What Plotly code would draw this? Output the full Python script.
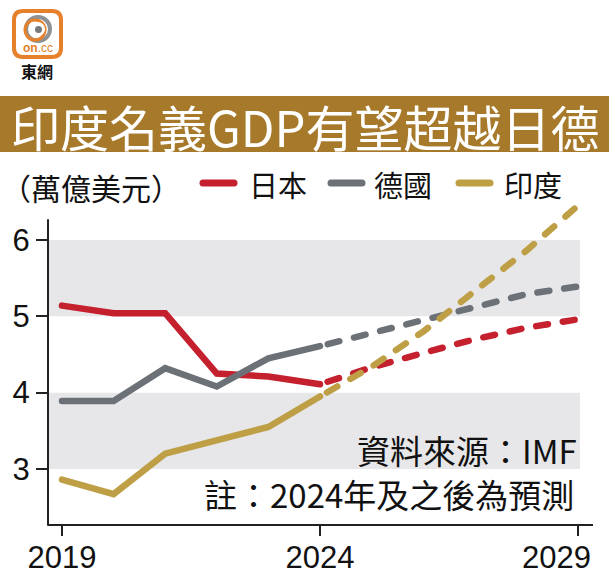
import plotly.graph_objects as go

# ---- data ----
years_actual = [2019, 2020, 2021, 2022, 2023, 2024]
years_forecast = [2024, 2025, 2026, 2027, 2028, 2029]
japan_actual = [5.14, 5.04, 5.04, 4.25, 4.21, 4.11]
japan_forecast = [4.11, 4.33, 4.52, 4.70, 4.85, 4.96]
germany_actual = [3.89, 3.89, 4.32, 4.08, 4.45, 4.61]
germany_forecast = [4.61, 4.78, 4.96, 5.14, 5.29, 5.39]
india_actual = [2.86, 2.67, 3.20, 3.38, 3.55, 3.95]
india_forecast = [3.95, 4.34, 4.80, 5.32, 5.86, 6.45]
series_names = ["日本", "德國", "印度"]
x_ticks = [2019, 2024, 2029]
y_ticks = [3, 4, 5, 6]
bands = [(3, 4), (5, 6)]

RED = "#C5202E"
GREY = "#6C7177"
GOLD = "#BE9F45"
BROWN = "#A77A2B"
ORANGE = "#E6802A"
BAND = "#E7E7E9"

W, H = 609, 579
def px(x):
    return x / W
def py(y):
    return 1 - y / H

CJK = "Noto Sans CJK TC"
LAT = "Liberation Sans"

fig = go.Figure()
for name, col, ya, yf in [
    ("日本", RED, japan_actual, japan_forecast),
    ("德國", GREY, germany_actual, germany_forecast),
    ("印度", GOLD, india_actual, india_forecast),
]:
    fig.add_trace(go.Scatter(x=years_actual, y=ya, mode="lines", name=name,
                             line=dict(color=col, width=6.5), showlegend=False,
                             hoverinfo="skip"))
    fig.add_trace(go.Scatter(x=years_forecast, y=yf, mode="lines", name=name,
                             line=dict(color=col, width=6.5, dash="12px,15px"),
                             showlegend=False, hoverinfo="skip"))

shapes = []
# grey bands
for lo, hi in bands:
    shapes.append(dict(type="rect", xref="paper", yref="y", x0=px(49), x1=px(580),
                       y0=lo, y1=hi, fillcolor=BAND, line=dict(width=0), layer="below"))
# y axis line
shapes.append(dict(type="line", xref="paper", yref="paper", x0=px(48), x1=px(48),
                   y0=py(525), y1=py(220), line=dict(color="#222", width=2)))
# title bar
shapes.append(dict(type="rect", xref="paper", yref="paper", x0=0, x1=1,
                   y0=py(152), y1=py(96), fillcolor=BROWN, line=dict(width=0)))
# legend swatches
for (x0, x1), col in zip([(203, 234), (331, 362), (459, 490)], [RED, GREY, GOLD]):
    shapes.append(dict(type="line", xref="paper", yref="paper", x0=px(x0), x1=px(x1),
                       y0=py(183), y1=py(183), line=dict(color=col, width=7)))
# logo: rounded square
r = 9
x0, y0, x1, y1 = 14, 11, 61, 57
path = (f"M {px(x0 + r)} {py(y0)} L {px(x1 - r)} {py(y0)} "
        f"Q {px(x1)} {py(y0)} {px(x1)} {py(y0 + r)} L {px(x1)} {py(y1 - r)} "
        f"Q {px(x1)} {py(y1)} {px(x1 - r)} {py(y1)} L {px(x0 + r)} {py(y1)} "
        f"Q {px(x0)} {py(y1)} {px(x0)} {py(y1 - r)} L {px(x0)} {py(y0 + r)} "
        f"Q {px(x0)} {py(y0)} {px(x0 + r)} {py(y0)} Z")
shapes.append(dict(type="path", xref="paper", yref="paper", path=path,
                   fillcolor="white", line=dict(color=ORANGE, width=4)))
# logo: swoosh circles
shapes.append(dict(type="circle", xref="paper", yref="paper", x0=px(26), x1=px(50),
                   y0=py(41), y1=py(17), line=dict(color="#8E9194", width=4)))
shapes.append(dict(type="circle", xref="paper", yref="paper", x0=px(25), x1=px(45),
                   y0=py(40), y1=py(20), line=dict(color=ORANGE, width=3)))
shapes.append(dict(type="circle", xref="paper", yref="paper", x0=px(31), x1=px(45),
                   y0=py(36), y1=py(22), fillcolor="white", line=dict(width=0)))
shapes.append(dict(type="circle", xref="paper", yref="paper", x0=px(35), x1=px(42),
                   y0=py(33), y1=py(26), fillcolor="#777A7D", line=dict(width=0)))

annotations = [
    dict(text="印度名義GDP有望超越日德", x=px(305), y=py(125), xref="paper", yref="paper",
         showarrow=False, xanchor="center", yanchor="middle",
         font=dict(family=CJK, size=49, color="white")),
    dict(text="（萬億美元）", x=px(-1), y=py(187), xref="paper", yref="paper",
         showarrow=False, xanchor="left", yanchor="middle",
         font=dict(family=CJK, size=30, color="#111")),
    dict(text="資料來源：IMF", x=px(579), y=py(450), xref="paper", yref="paper",
         showarrow=False, xanchor="right", yanchor="middle",
         font=dict(family=CJK, size=33, color="#111")),
    dict(text="註：2024年及之後為預測", x=px(576), y=py(494), xref="paper", yref="paper",
         showarrow=False, xanchor="right", yanchor="middle",
         font=dict(family=CJK, size=33, color="#111")),
    dict(text="<b>on</b>.cc", x=px(38), y=py(48), xref="paper", yref="paper",
         showarrow=False, xanchor="center", yanchor="middle",
         font=dict(family=LAT, size=12, color=ORANGE)),
    dict(text="<b>東網</b>", x=px(37), y=py(71), xref="paper", yref="paper",
         showarrow=False, xanchor="center", yanchor="middle",
         font=dict(family=CJK, size=16, color="#111")),
    # last x tick label, shifted left so it stays inside the picture (as in the reference)
    dict(text=str(x_ticks[-1]), x=x_ticks[-1], xref="x", y=py(557), yref="paper",
         xanchor="right", yanchor="middle", xshift=15, showarrow=False,
         font=dict(family=LAT, size=31, color="#111")),
]
for name, xl in zip(series_names, [247, 372, 502]):
    annotations.append(dict(text=name, x=px(xl), y=py(184), xref="paper", yref="paper",
                            showarrow=False, xanchor="left", yanchor="middle",
                            font=dict(family=CJK, size=29, color="#111")))

fig.update_layout(
    width=W, height=H,
    margin=dict(l=0, r=0, t=0, b=0, pad=0, autoexpand=False),
    paper_bgcolor="white", plot_bgcolor="rgba(0,0,0,0)",
    shapes=shapes, annotations=annotations,
    xaxis=dict(domain=[px(48), px(593)], range=[2018.729, 2029.291], automargin=False,
               tickmode="array", tickvals=x_ticks,
               ticktext=[str(v) for v in x_ticks[:-1]] + [""],
               showline=True, linecolor="#222", linewidth=2,
               ticks="outside", ticklen=10, tickwidth=2, tickcolor="#222",
               showgrid=False, zeroline=False, ticklabelstandoff=-5,
               tickfont=dict(family=LAT, size=31, color="#111")),
    yaxis=dict(domain=[py(524), py(196)], range=[2.279, 6.576], automargin=False,
               tickmode="array", tickvals=y_ticks, ticktext=[str(v) for v in y_ticks],
               showline=False, ticks="outside", ticklen=11, tickwidth=2,
               tickcolor="#222", showgrid=False, zeroline=False,
               tickfont=dict(family=LAT, size=31, color="#111")),
)

post = """
document.body.style.margin='0';
document.body.style.padding='0';
document.querySelectorAll('.scatterlayer .js-line').forEach(function(p){p.style.strokeLinecap='round';p.style.strokeDashoffset='-8px';});
document.querySelectorAll('.shapelayer path').forEach(function(p){p.style.strokeLinecap='round';});
"""
fig.write_html("out.html", post_script=post, config={"displayModeBar": False})
